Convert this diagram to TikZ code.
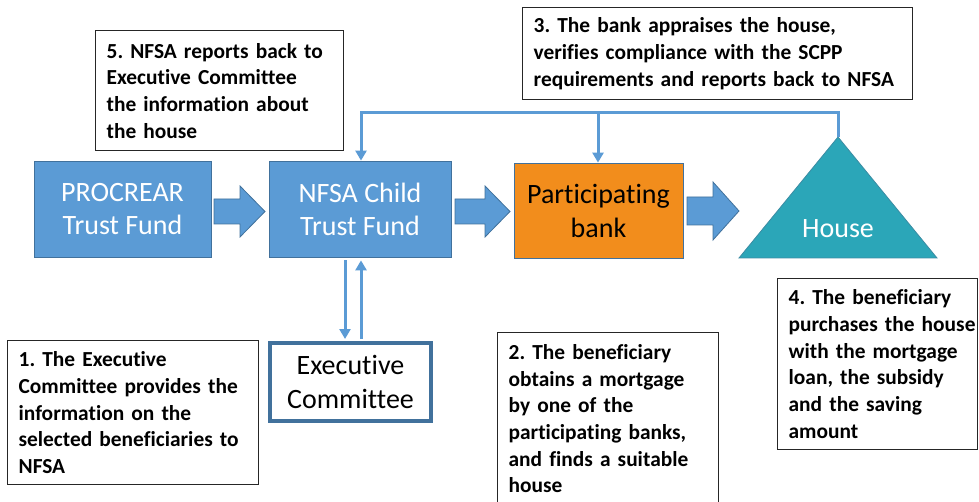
\documentclass[tikz,border=0pt]{standalone}
\usepackage{fontspec}
\setmainfont{Carlito}[Ligatures=NoCommon]
\usetikzlibrary{arrows.meta,calc}

\definecolor{fundblue}{HTML}{5B9BD5}
\definecolor{edgeblue}{HTML}{41719C}
\definecolor{bankorange}{HTML}{F28D1C}
\definecolor{houseteal}{HTML}{2BA6B8}
\definecolor{houseedge}{HTML}{3B8CA3}

\tikzset{
  fundbox/.style={draw=edgeblue, line width=0.8pt, fill=fundblue, text=white,
    align=center, font=\fontsize{28}{33}\selectfont, inner sep=0pt},
  bankbox/.style={fundbox, fill=bankorange, text=black},
  execbox/.style={draw=edgeblue, line width=4pt, fill=white, text=black,
    align=center, font=\fontsize{28}{34}\selectfont, inner sep=0pt},
  notebox/.style={draw=black!85, line width=1.3pt, fill=white, anchor=north west,
    align=left, inner xsep=11pt, inner ysep=0pt,
    font=\bfseries\fontsize{21.4}{26.7}\selectfont},
  blockarrow/.style={draw=edgeblue, line width=0.8pt, fill=fundblue},
  flow/.style={draw=fundblue, line width=3pt,
    -{Triangle[width=11pt,length=10pt]}},
}

\begin{document}
\frenchspacing
\begin{tikzpicture}[x=1pt,y=-1pt]
\useasboundingbox (0,0) rectangle (979,502);

% main chain
\node[fundbox, minimum width=177pt, minimum height=96pt] (proc) at (122.5,209) {PROCREAR\\Trust Fund};
\node[fundbox, minimum width=182pt, minimum height=96pt] (nfsa) at (360,209) {NFSA Child\\Trust Fund};
\node[bankbox, minimum width=169pt, minimum height=95pt] (bank) at (598.5,210.5) {Participating\\[1pt]bank};

% house
\coordinate (apex) at (838,137);
\coordinate (hl) at (739,258);
\coordinate (hr) at (937,258);
\fill[houseteal, draw=houseedge, line width=0.8pt] (apex) -- (hr) -- (hl) -- cycle;
\node[text=white, font=\fontsize{28}{33}\selectfont, inner sep=0pt] (house) at (838,229) {House};

% executive committee
\node[execbox, minimum width=161pt, minimum height=78pt] (exec) at (350.5,382) {Executive\\Committee};

% block arrows between the main boxes
\draw[blockarrow] (214,199) -- (240,199) -- (240,186) -- (265,211.5) -- (240,237) -- (240,224) -- (214,224) -- cycle;
\draw[blockarrow] (455,199) -- (485,199) -- (485,186) -- (510,211.5) -- (485,237) -- (485,224) -- (455,224) -- cycle;
\draw[blockarrow] (687,197) -- (713,197) -- (713,182) -- (739,211) -- (713,240) -- (713,225) -- (687,225) -- cycle;

% feedback from the house
\coordinate (split) at (598,112.5);
\draw[flow] (apex) -- (838,112.5) -| ([xshift=1pt]nfsa.north);
\draw[flow] (split) -- (bank.north -| split);

% link between the trust fund and the committee
\draw[flow] ([xshift=-15pt,yshift=-3pt]nfsa.south) -- ([xshift=-5.5pt,yshift=2pt]exec.north);
\draw[flow] ([xshift=10.5pt,yshift=2pt]exec.north) -- ([xshift=1pt,yshift=-3pt]nfsa.south);

% notes
\node[notebox, text width=226pt, minimum height=120pt] (n5) at (95,30)
  {\mbox{5. NFSA reports back to}\\\mbox{Executive Committee}\\\mbox{the information about}\\\mbox{the house}};
\node[notebox, text width=368pt, minimum height=92pt] (n3) at (522,7)
  {\mbox{3. The bank appraises the house,}\\\mbox{verifies compliance with the SCPP}\\\mbox{requirements and reports back to NFSA}};
\node[notebox, text width=229pt, minimum height=144pt] (n1) at (7,340)
  {\mbox{1. The Executive}\\\mbox{Committee provides the}\\\mbox{information on the}\\\mbox{selected beneficiaries to}\\\mbox{NFSA}};
\node[notebox, text width=199pt, minimum height=172pt] (n2) at (497,332)
  {\mbox{2. The beneficiary}\\\mbox{obtains a mortgage}\\\mbox{by one of the}\\\mbox{participating banks,}\\\mbox{and finds a suitable}\\\mbox{house}};
\node[notebox, text width=178pt, minimum height=171pt] (n4) at (777,278)
  {\mbox{4. The beneficiary}\\\mbox{purchases the house}\\\mbox{with the mortgage}\\\mbox{loan, the subsidy}\\\mbox{and the saving}\\\mbox{amount}};
\end{tikzpicture}
\end{document}
